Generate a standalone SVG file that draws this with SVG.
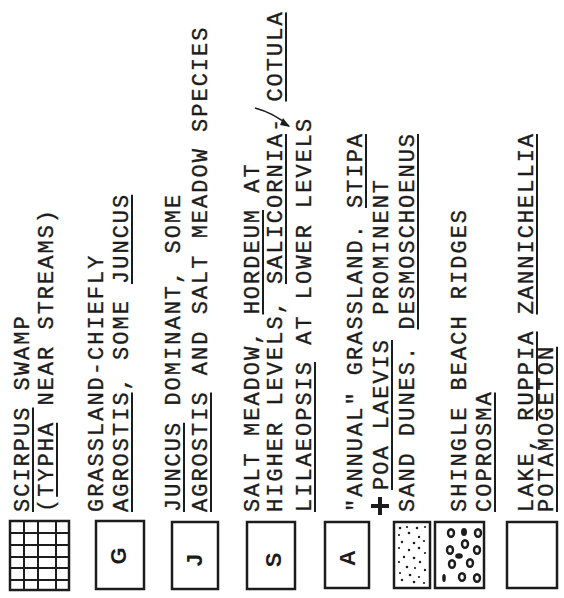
<svg xmlns="http://www.w3.org/2000/svg" width="564" height="598" viewBox="0 0 564 598">
<style>
.t{font-family:"Liberation Mono","DejaVu Sans Mono",monospace;font-size:22px;letter-spacing:2px;fill:#1c1c1c;stroke:#1c1c1c;stroke-width:0.35}
.u{stroke:#1c1c1c;stroke-width:2;fill:none}
.box{fill:#fff;stroke:#1c1c1c;stroke-width:2.5}
.grid{stroke:#1c1c1c;stroke-width:2;fill:none}
.lt{font-family:"Liberation Sans","DejaVu Sans",sans-serif;font-size:22px;font-weight:bold;fill:#1c1c1c}
.dot{fill:#1c1c1c}
.peb{fill:#fff;stroke:#1c1c1c;stroke-width:2.4}
.pebf{fill:#1c1c1c}
</style>
<rect width="564" height="598" fill="#fff"/>

<g id="entry-scirpus">
<rect class="box" x="10" y="521" width="59" height="69"/>
<path class="grid" d="M24,521V590M38,521V590M56,521V590M10,533H69M10,545H69M10,557H69M10,568H69M10,580H69"/>
<g transform="translate(29,512) rotate(-90)"><text class="t">SCIRPUS SWAMP</text><path class="u" d="M0,4H104.4"/></g>
<g transform="translate(53,512) rotate(-90)"><text class="t">(TYPHA NEAR STREAMS)</text><path class="u" d="M15.2,4H89.2"/></g>
</g>

<g id="entry-g">
<rect class="box" x="96" y="521" width="48" height="68"/>
<text class="lt" transform="translate(118,556) rotate(-90)" text-anchor="middle" dominant-baseline="central">G</text>
<g transform="translate(103,512) rotate(-90)"><text class="t">GRASSLAND-CHIEFLY</text></g>
<g transform="translate(128,512) rotate(-90)"><text class="t">AGROSTIS, SOME JUNCUS</text><path class="u" d="M0,4H119.6M228,4H317.2"/></g>
</g>

<g id="entry-j">
<rect class="box" x="172" y="522" width="46" height="67"/>
<text class="lt" transform="translate(194,560) rotate(-90)" text-anchor="middle" dominant-baseline="central">J</text>
<g transform="translate(180,512) rotate(-90)"><text class="t">JUNCUS DOMINANT, SOME</text><path class="u" d="M0,4H89.2"/></g>
<g transform="translate(207,512) rotate(-90)"><text class="t">AGROSTIS AND SALT MEADOW SPECIES</text><path class="u" d="M0,4H119.6"/></g>
</g>

<g id="entry-s">
<rect class="box" x="247" y="522" width="48" height="67"/>
<text class="lt" transform="translate(273,560) rotate(-90)" text-anchor="middle" dominant-baseline="central">S</text>
<g transform="translate(259,512) rotate(-90)"><text class="t">SALT MEADOW, HORDEUM AT</text><path class="u" d="M197.6,4H302"/></g>
<g transform="translate(282,512) rotate(-90)"><text class="t">HIGHER LEVELS, SALICORNIA-<tspan x="410.4">COTULA</tspan></text><path class="u" d="M228,4H378M410.4,4H499.6"/></g>
<g transform="translate(311,512) rotate(-90)"><text class="t">LILAEOPSIS AT LOWER LEVELS</text><path class="u" d="M0,4H150"/></g>
</g>

<g id="entry-a">
<rect class="box" x="325" y="522" width="44" height="66"/>
<text class="lt" transform="translate(347,558) rotate(-90)" text-anchor="middle" dominant-baseline="central">A</text>
<g transform="translate(362,512) rotate(-90)"><text class="t">"ANNUAL" GRASSLAND. STIPA</text><path class="u" d="M304,4H378"/></g>
<path d="M371,506H389M380,497V515" stroke="#1c1c1c" stroke-width="4" fill="none"/>
<g transform="translate(388,512) rotate(-90)"><text class="t" x="22">POA LAEVIS <tspan dx="8">PROMINENT</tspan></text><path class="u" d="M22,4H172"/></g>
</g>

<g id="entry-sand">
<rect class="box" x="394" y="522" width="36" height="66"/>
<g class="dot">
<circle cx="400" cy="528" r="1.3"/><circle cx="407" cy="527" r="1.1"/><circle cx="417" cy="528" r="1.3"/><circle cx="425" cy="527" r="1.1"/>
<circle cx="399" cy="535" r="1.1"/><circle cx="409" cy="533" r="1.3"/><circle cx="419" cy="537" r="1.2"/><circle cx="424" cy="541" r="1.1"/>
<circle cx="402" cy="542" r="1.2"/><circle cx="414" cy="543" r="1.3"/><circle cx="399" cy="548" r="1.1"/><circle cx="409" cy="550" r="1.2"/>
<circle cx="419" cy="548" r="1.3"/><circle cx="425" cy="553" r="1.1"/><circle cx="404" cy="557" r="1.2"/><circle cx="414" cy="558" r="1.3"/>
<circle cx="399" cy="562" r="1.1"/><circle cx="420" cy="562" r="1.2"/><circle cx="407" cy="567" r="1.3"/><circle cx="415" cy="568" r="1.1"/>
<circle cx="425" cy="570" r="1.2"/><circle cx="400" cy="573" r="1.1"/><circle cx="410" cy="575" r="1.3"/><circle cx="419" cy="577" r="1.1"/>
<circle cx="402" cy="580" r="1.2"/><circle cx="414" cy="582" r="1.3"/><circle cx="424" cy="583" r="1.1"/>
</g>
<g transform="translate(414,512) rotate(-90)"><text class="t">SAND DUNES. DESMOSCHOENUS</text><path class="u" d="M182.4,4H378"/></g>
</g>

<g id="entry-shingle">
<rect class="box" x="435" y="522" width="49" height="66"/>
<ellipse class="peb" cx="451" cy="533" rx="3" ry="3.8"/>
<ellipse class="pebf" cx="464" cy="532" rx="3" ry="4"/>
<ellipse class="peb" cx="478" cy="533" rx="3" ry="3.8"/>
<ellipse class="peb" cx="465" cy="544" rx="3" ry="3.8"/>
<ellipse class="peb" cx="450" cy="550" rx="3" ry="3.8"/>
<ellipse class="pebf" cx="459" cy="556" rx="3.8" ry="2.8"/>
<ellipse class="peb" cx="477" cy="550" rx="3" ry="3.8"/>
<ellipse class="peb" cx="452" cy="564" rx="3" ry="3.8"/>
<ellipse class="peb" cx="470" cy="563" rx="3" ry="3.8"/>
<ellipse class="pebf" cx="444" cy="578" rx="1.8" ry="4"/>
<ellipse class="peb" cx="462" cy="577" rx="3" ry="3.8"/>
<ellipse class="peb" cx="477" cy="578" rx="3" ry="3.8"/>
<g transform="translate(466,512) rotate(-90)"><text class="t">SHINGLE BEACH RIDGES</text></g>
<g transform="translate(491,512) rotate(-90)"><text class="t">COPROSMA</text><path class="u" d="M0,4H119.6"/></g>
</g>

<g id="entry-lake">
<rect class="box" x="507" y="522" width="50" height="66"/>
<g transform="translate(533,512) rotate(-90)"><text class="t">LAKE, RUPPIA ZANNICHELLIA</text><path class="u" d="M91.2,4H180.4M197.6,4H378"/></g>
<g transform="translate(553,512) rotate(-90)"><text class="t">POTAMOGETON</text><path class="u" d="M0,4H165.2"/></g>
</g>

<g id="connectors">
<path d="M255,108Q274,113 289,126" stroke="#1c1c1c" stroke-width="1.6" fill="none"/>
<path d="M283,118L290,127L280,125Z" fill="#1c1c1c"/>
</g>
</svg>
